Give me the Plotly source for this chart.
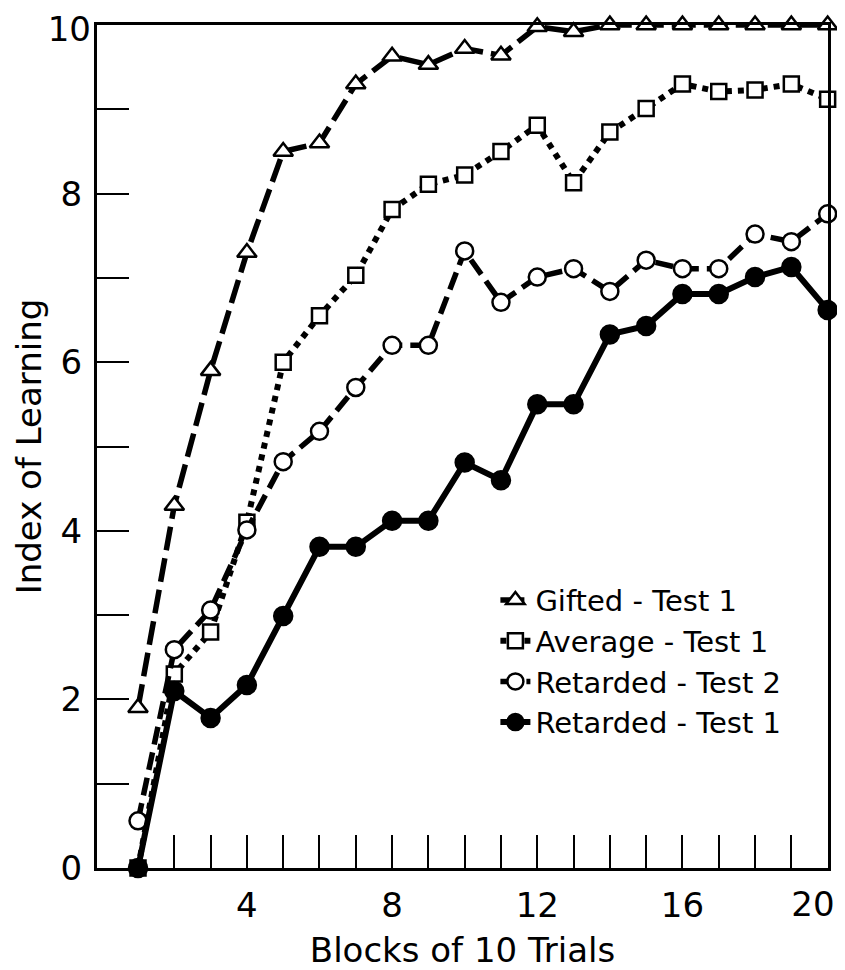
import plotly.graph_objects as go

blocks = list(range(1, 21))

gifted_t1 = [1.9, 4.3, 5.9, 7.3, 8.5, 8.6, 9.3, 9.63, 9.53, 9.72, 9.64, 9.98, 9.92, 10.0, 10.0, 10.0, 10.0, 10.0, 10.0, 10.0]
average_t1 = [0.0, 2.3, 2.8, 4.1, 6.0, 6.55, 7.03, 7.81, 8.11, 8.22, 8.5, 8.81, 8.13, 8.73, 9.01, 9.3, 9.21, 9.23, 9.3, 9.12]
retarded_t2 = [0.56, 2.59, 3.06, 4.01, 4.82, 5.18, 5.7, 6.2, 6.2, 7.32, 6.71, 7.01, 7.11, 6.84, 7.21, 7.11, 7.11, 7.52, 7.43, 7.76]
retarded_t1 = [0.0, 2.1, 1.78, 2.17, 2.99, 3.81, 3.81, 4.12, 4.12, 4.81, 4.6, 5.5, 5.5, 6.33, 6.43, 6.81, 6.81, 7.01, 7.13, 6.62]

series_names = ["Gifted - Test 1", "Average - Test 1", "Retarded - Test 2", "Retarded - Test 1"]

x_tickvals = list(range(2, 21))
x_ticktext = ["" if v % 4 or v == 20 else str(v) for v in x_tickvals]
x_last_tickval = [20]
x_last_ticktext = ["20"]
y_tickvals = list(range(0, 11))
y_ticktext = [str(v) if v % 2 == 0 and v != 10 else "" for v in y_tickvals]
y_top_tickval = [10]
y_top_ticktext = ["10"]

FONT = "DejaVu Sans"
X_RANGE = [-0.13, 20.01]
Y_RANGE = [0, 10]
fig = go.Figure()

styles = [
    dict(y=gifted_t1, symbol="triangle-up", size=17, dash="24px,8px", fill="white", lw=5.5),
    dict(y=average_t1, symbol="square", size=15, dash="6px,6px", fill="white", lw=6),
    dict(y=retarded_t2, symbol="circle", size=17, dash="18px,8px", fill="white", lw=5.5),
    dict(y=retarded_t1, symbol="circle", size=18, dash="solid", fill="black", lw=6),
]

for name, st in zip(series_names, styles):
    fig.add_trace(go.Scatter(
        x=blocks, y=st["y"], name=name, mode="lines+markers",
        line=dict(color="black", width=st["lw"], dash=st["dash"]),
        marker=dict(symbol=st["symbol"], size=st["size"], color=st["fill"],
                    line=dict(color="black", width=2.5)),
        cliponaxis=False,
    ))

# invisible carriers for the overlay axes holding the edge labels "20" and "10"
fig.add_trace(go.Scatter(
    x=blocks[-1:], y=retarded_t1[-1:], xaxis="x2", yaxis="y", mode="markers",
    marker=dict(opacity=0), showlegend=False, hoverinfo="skip",
))
fig.add_trace(go.Scatter(
    x=blocks[-1:], y=gifted_t1[-1:], xaxis="x", yaxis="y2", mode="markers",
    marker=dict(opacity=0), showlegend=False, hoverinfo="skip",
))

fig.update_layout(
    width=837, height=962,
    margin=dict(l=89, r=17, t=17, b=102),
    paper_bgcolor="white", plot_bgcolor="white",
    font=dict(family=FONT, color="black", size=34),
    showlegend=True,
    legend=dict(x=0.545, y=0.348, xanchor="left", yanchor="top",
                bgcolor="rgba(0,0,0,0)", font=dict(size=29, family=FONT),
                tracegroupgap=0),
    xaxis=dict(range=X_RANGE, showgrid=False, zeroline=False, automargin=False,
               showline=True, mirror=True, linecolor="black", linewidth=3,
               ticks="inside", ticklen=33, tickwidth=2, tickcolor="black",
               tickvals=x_tickvals, ticktext=x_ticktext, ticklabeloverflow="allow",
               tickfont=dict(size=34), ticklabelstandoff=5,
               title=dict(text="Blocks of 10 Trials", font=dict(size=34), standoff=16)),
    xaxis2=dict(range=X_RANGE, overlaying="x", anchor="y", side="bottom",
                showgrid=False, zeroline=False, showline=False, automargin=False,
                ticks="", tickvals=x_last_tickval, ticktext=x_last_ticktext,
                ticklabelposition="outside left", ticklabelshift=7,
                ticklabeloverflow="allow",
                tickfont=dict(size=34), ticklabelstandoff=13),
    yaxis=dict(range=Y_RANGE, showgrid=False, zeroline=False, automargin=False,
               showline=True, mirror=True, linecolor="black", linewidth=3,
               ticks="inside", ticklen=32, tickwidth=2, tickcolor="black",
               tickvals=y_tickvals, ticktext=y_ticktext, ticklabeloverflow="allow",
               tickfont=dict(size=34), ticklabelstandoff=5,
               title=dict(text="Index of Learning", font=dict(size=34), standoff=9)),
    yaxis2=dict(range=Y_RANGE, overlaying="y", anchor="x", side="left",
                showgrid=False, zeroline=False, showline=False, automargin=False,
                ticks="", tickvals=y_top_tickval, ticktext=y_top_ticktext,
                ticklabelshift=4, ticklabeloverflow="allow",
                tickfont=dict(size=34), ticklabelstandoff=5),
)

fig.write_html("out.html")
